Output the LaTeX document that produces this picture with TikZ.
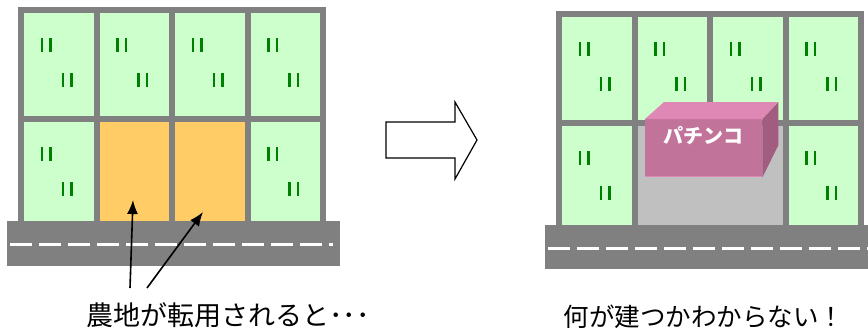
\documentclass[tikz,border=0pt]{standalone}
\usepackage{fontspec}
\setmainfont{Noto Sans CJK JP}
\usetikzlibrary{arrows.meta,positioning}

\definecolor{hatake}{HTML}{CCFFCC}
\definecolor{kusa}{HTML}{008000}
\definecolor{tenyou}{HTML}{FFCC66}
\definecolor{michi}{HTML}{808080}
\definecolor{sarachi}{HTML}{C0C0C0}
\definecolor{hakoMae}{HTML}{C27399}
\definecolor{hakoUe}{HTML}{E088B5}
\definecolor{hakoYoko}{HTML}{A15C80}

% two little blades of grass in a field
\newcommand{\ine}[2]{%
  \draw[kusa, line width=2.5pt] (#1-4.25,#2-7) -- ++(0,14);
  \draw[kusa, line width=2.5pt] (#1+4.25,#2-7) -- ++(0,14);}

\tikzset{
  waku/.style={fill=michi},
  dashline/.style={white, line width=3pt, dash pattern=on 22pt off 7pt},
  setsumei/.style={font=\fontsize{27}{30}\selectfont, inner sep=0pt}
}

\begin{document}
\begin{tikzpicture}[x=1pt,y=-1pt]
        \useasboundingbox (0,0) rectangle (868,333);

        % Before: fields along the road
        \begin{scope}
          \fill[waku] (18,7) rectangle (326,222);
          \foreach \cx in {24,99.5,175,250.5}
            \foreach \cy/\ch in {13/103,122/100} {
              \fill[hatake] (\cx,\cy) rectangle ++(69.5,\ch);
              \ine{\cx+22}{\cy+32}
              \ine{\cx+43}{\cy+67}
            }
          \fill[tenyou] (99.5,122) rectangle ++(69.5,100);
          \fill[tenyou] (175,122) rectangle ++(69.5,100);
          % road
          \fill[michi] (7,221) rectangle (340,266);
          \draw[dashline] (10,244) -- (333,244);
        \end{scope}

        % Caption and arrows
        \node[setsumei] (before) at (228,315) {農地が転用されると･･･};
        \coordinate (tipA) at (133,200);
        \coordinate (tipB) at (203,212);
        \coordinate (tailA) at (130,288);
        \coordinate (tailB) at (147,288);
        \draw[-{Latex[length=14pt,width=11pt]}, line width=1.6pt] (tailA) -- (tipA);
        \draw[-{Latex[length=14pt,width=11pt]}, line width=1.6pt] (tailB) -- (tipB);

        % Hollow arrow in the middle
        \draw[line width=1.2pt, fill=white]
          (386,122) -- (455,122) -- (455,102) -- (477,140)
          -- (455,179) -- (455,158) -- (386,158) -- cycle;

        % After: a building on the converted plots
        \begin{scope}[shift={(538,4)}]
          \fill[waku] (18,7) rectangle (326,222);
          \foreach \cx in {24,99.5,175,250.5}
            \foreach \cy/\ch in {13/103,122/100} {
              \fill[hatake] (\cx,\cy) rectangle ++(69.5,\ch);
              \ine{\cx+22}{\cy+32}
              \ine{\cx+43}{\cy+67}
            }
          \fill[sarachi] (99.5,122) rectangle (244.5,222);
          % road
          \fill[michi] (7,221) rectangle (330,265);
          \draw[dashline] (10,244) -- (330,244);

          % pachinko box
          \node[fill=hakoMae, minimum width=117pt, minimum height=58pt,
                inner sep=0pt, anchor=north west] (pachinko) at (107,115) {};
          \fill[hakoUe] (pachinko.north west) -- ++(19,-17) -- ++(114,0)
            -- (pachinko.north east) -- cycle;
          \fill[hakoYoko] (pachinko.north east) -- ++(16,-17) -- ++(0,43)
            -- (pachinko.south east) -- cycle;
          \draw[hakoUe, line width=1pt] ([yshift=0.5pt]pachinko.south west)
            -- ([yshift=0.5pt]pachinko.south east);
          \node[white, font=\fontsize{20}{22}\selectfont\bfseries]
            (pachinkoname) at ([yshift=-17pt]pachinko.north) {パチンコ};
        \end{scope}

        \node[setsumei, font=\fontsize{25.5}{29}\selectfont] (after) at (704,317) {何が建つかわからない！};
\end{tikzpicture}
\end{document}
